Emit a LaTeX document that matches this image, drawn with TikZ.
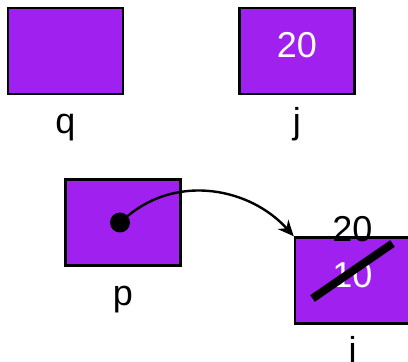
\documentclass[tikz,border=0pt]{standalone}
\usepackage{fontspec}
\setmainfont{Liberation Sans}
\usepackage{tikz}
\usetikzlibrary{arrows.meta, positioning, calc}

\definecolor{boxpurple}{RGB}{160,32,240}

\begin{document}
\begin{tikzpicture}[
    x=1pt, y=1pt,
    font=\fontsize{36}{43}\selectfont,
    >=Stealth,
    varBox/.style={
        rectangle,
        draw=black,
        line width=2.4pt,
        fill=boxpurple,
        minimum width=115pt,
        minimum height=86pt,
        inner sep=0pt,
        text=white,
        text depth=12pt
    },
    varName/.style={anchor=base, inner sep=0pt},
    pdot/.style={circle, fill=black, minimum size=20pt, inner sep=0pt},
    ptr/.style={line width=2.4pt, draw=black, arrows={-Stealth[length=16pt, width=14pt]}},
    strike/.style={line width=8pt, draw=black}
]
    \useasboundingbox (0,0) rectangle (408,362);

    % --- top row ---
    \node[varBox] (q) at (65.5,311) {};
    \node[varBox, right=114pt of q] (j) {20};

    % --- bottom row ---
    \node[varBox] (p) at (123,139.5) {};
    \node[varBox] (i) at (352.5,81.5) {10};

    % --- names ---
    \node[varName, below=38pt of q.south, anchor=base] (qname) {q};
    \node[varName, below=38pt of j.south, anchor=base] (jname) {j};
    \node[varName, below=39pt of p.south, anchor=base] (pname) {p};
    \node[varName, below=38pt of i.south, anchor=base] (iname) {i};

    % --- new value of i ---
    \node[inner sep=0pt, below=5pt of i.north, anchor=base] (inew) {20};
    \coordinate (s1) at ($(i.center)+(-40,-18)$);
    \coordinate (s2) at ($(i.center)+(40,37)$);
    \draw[strike] (s1) -- (s2);

    % --- pointer ---
    \node[pdot, xshift=-3pt] (pd) at (p.center) {};
    \draw[ptr] (pd) to[out=40, in=132] (i.north west);
\end{tikzpicture}
\end{document}
